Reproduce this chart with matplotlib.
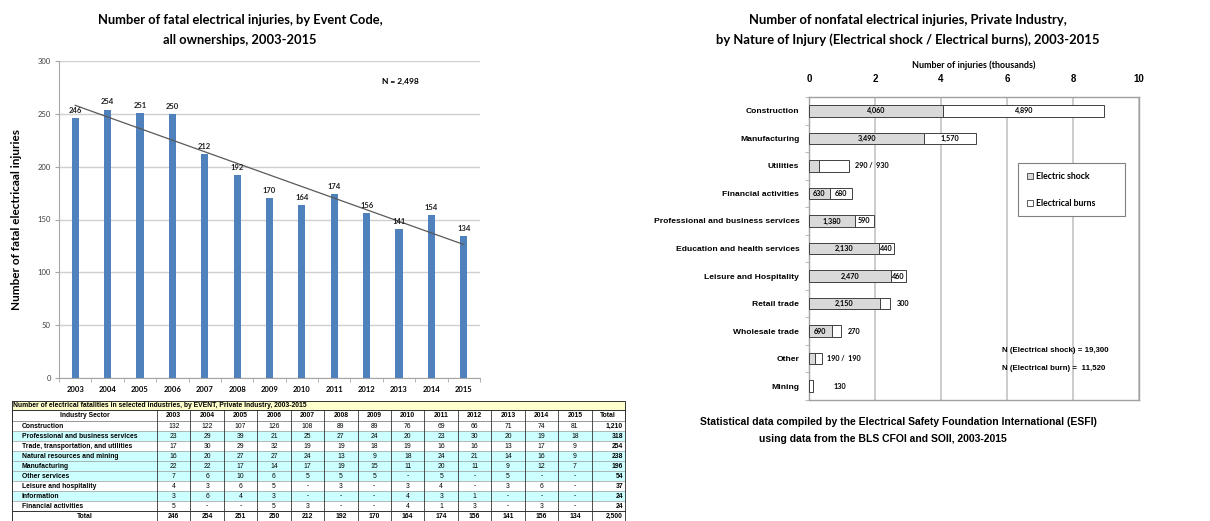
import matplotlib.pyplot as plt
import numpy as np
from matplotlib.patches import Rectangle, Patch

# ---- données : graphique de gauche (décès) ----
years = [2003, 2004, 2005, 2006, 2007, 2008, 2009, 2010, 2011, 2012, 2013, 2014, 2015]
fatal = [246, 254, 251, 250, 212, 192, 170, 164, 174, 156, 141, 154, 134]

# ---- données : tableau ----
table_title = "Number of electrical fatalities in selected industries, by EVENT, Private Industry, 2003-2015"
table_cols = ["2003", "2004", "2005", "2006", "2007", "2008", "2009", "2010", "2011",
              "2012", "2013", "2014", "2015", "Total"]
sectors = ["Construction", "Professional and business services",
           "Trade, transportation, and utilities", "Natural resources and mining",
           "Manufacturing", "Other services", "Leisure and hospitality",
           "Information", "Financial activities", "Total"]
table_vals = [
    ["132", "122", "107", "126", "108", "89", "89", "76", "69", "66", "71", "74", "81", "1,210"],
    ["23", "29", "39", "21", "25", "27", "24", "20", "23", "30", "20", "19", "18", "318"],
    ["17", "30", "29", "32", "19", "19", "18", "19", "16", "16", "13", "17", "9", "254"],
    ["16", "20", "27", "27", "24", "13", "9", "18", "24", "21", "14", "16", "9", "238"],
    ["22", "22", "17", "14", "17", "19", "15", "11", "20", "11", "9", "12", "7", "196"],
    ["7", "6", "10", "6", "5", "5", "5", "-", "5", "-", "5", "-", "-", "54"],
    ["4", "3", "6", "5", "-", "3", "-", "3", "4", "-", "3", "6", "-", "37"],
    ["3", "6", "4", "3", "-", "-", "-", "4", "3", "1", "-", "-", "-", "24"],
    ["5", "-", "-", "5", "3", "-", "-", "4", "1", "3", "-", "3", "-", "24"],
    ["246", "254", "251", "250", "212", "192", "170", "164", "174", "156", "141", "156", "134", "2,500"],
]
row_cyan = [False, True, False, True, True, True, False, True, False, False]

# ---- données : graphique de droite (non mortels, milliers) ----
industries = ["Construction", "Manufacturing", "Utilities", "Financial activities",
              "Professional and business services", "Education and health services",
              "Leisure and Hospitality", "Retail trade", "Wholesale trade", "Other", "Mining"]
shock = [4.06, 3.49, 0.29, 0.63, 1.38, 2.13, 2.47, 2.15, 0.69, 0.19, 0.0]
burns = [4.89, 1.57, 0.93, 0.68, 0.59, 0.44, 0.46, 0.30, 0.27, 0.19, 0.13]

W, H = 1210, 521
fig = plt.figure(figsize=(W / 100, H / 100), dpi=100)

def px(x0, y0, x1, y1):
    return [x0 / W, 1 - y1 / H, (x1 - x0) / W, (y1 - y0) / H]

TITLE_FONT = "Lato"
ARIAL = "Liberation Sans"

# ================= gauche =================
ax = fig.add_axes(px(59, 61, 480, 378))
x = np.arange(len(years))
ax.bar(x, fatal, width=0.22, color="#4f81bd", zorder=3)
for xi, v in zip(x, fatal):
    ax.annotate(str(v), (xi, v), xytext=(0, 3), textcoords="offset points",
                ha="center", va="bottom", fontsize=5.5, fontweight="bold",
                family=TITLE_FONT, color="#222222", zorder=5)
a, b = np.polyfit(x, fatal, 1)
ax.plot([x[0], x[-1]], [a * x[0] + b, a * x[-1] + b], color="#595959", lw=0.9, zorder=4)

ax.set_xlim(-0.5, len(years) - 0.5)
ax.set_ylim(0, 300)
ax.set_yticks(range(0, 301, 50))
ax.set_xticks(x)
ax.set_xticklabels([str(y) for y in years], fontsize=5.5, fontweight="bold", family=TITLE_FONT)
ax.set_xticks(np.arange(-0.5, len(years)), minor=True)
ax.tick_params(axis="x", which="major", length=0, pad=6)
ax.tick_params(axis="x", which="minor", length=3, color="#a6a6a6")
ax.tick_params(axis="y", length=3, color="#a6a6a6", labelsize=5.5, labelcolor="#404040", pad=3)
for t in ax.get_yticklabels():
    t.set_family(TITLE_FONT)
ax.grid(axis="y", color="#d0d0d0", lw=1, zorder=0)
for s in ["top", "right"]:
    ax.spines[s].set_visible(False)
ax.spines["left"].set_color("#a6a6a6")
ax.spines["bottom"].set_color("#a6a6a6")
ax.set_ylabel("Number of fatal electricaal injuries", fontsize=8.5, fontweight="bold",
              family=TITLE_FONT, labelpad=11)
ax.text(0.812, 0.937, "N = 2,498", transform=ax.transAxes, ha="center", va="center",
        fontsize=6, fontweight="bold", family=TITLE_FONT)
fig.text(240 / W, 1 - 30 / H, "Number of fatal electrical injuries, by Event Code,\nall ownerships, 2003-2015",
         ha="center", va="center", fontsize=9.3, fontweight="bold", family=TITLE_FONT,
         linespacing=1.75)

# ================= tableau =================
tax = fig.add_axes([0, 0, 1, 1])
tax.set_xlim(0, W)
tax.set_ylim(H, 0)
tax.axis("off")
tx0, tx1 = 12, 625
c0 = 157
cw = (tx1 - c0) / len(table_cols)
ty_title, ty_head, ty_rows, rh = 401, 410, 421, 10.0
fs = 4.9
tax.add_patch(Rectangle((tx0, ty_title), tx1 - tx0, ty_head - ty_title, facecolor="#ffffcc",
                        edgecolor="#333333", lw=0.7))
tax.text(tx0 + 1, (ty_title + ty_head) / 2, table_title, fontsize=fs, fontweight="bold",
         family=ARIAL, va="center", ha="left")
tax.add_patch(Rectangle((tx0, ty_head), tx1 - tx0, ty_rows - ty_head, facecolor="white",
                        edgecolor="#333333", lw=0.7))
tax.text((tx0 + c0) / 2, (ty_head + ty_rows) / 2, "Industry Sector", fontsize=fs,
         fontweight="bold", family=ARIAL, ha="center", va="center")
for j, c in enumerate(table_cols):
    tax.text(c0 + cw * (j + 0.5), (ty_head + ty_rows) / 2, c, fontsize=fs, fontweight="bold",
             family=ARIAL, ha="center", va="center")
for i, (name, vals) in enumerate(zip(sectors, table_vals)):
    y0 = ty_rows + i * rh
    fc = "#ccffff" if row_cyan[i] else "white"
    tax.add_patch(Rectangle((tx0, y0), tx1 - tx0, rh, facecolor=fc, edgecolor="#9a9a9a", lw=0.4))
    last = name == "Total"
    if last:
        tax.text((tx0 + c0) / 2, y0 + rh / 2, name, fontsize=fs, fontweight="bold",
                 family=ARIAL, ha="center", va="center")
    else:
        tax.text(tx0 + 10, y0 + rh / 2, name, fontsize=fs, fontweight="bold",
                 family=ARIAL, ha="left", va="center")
    for j, v in enumerate(vals):
        if j == len(vals) - 1:
            tax.text(c0 + cw * (j + 1) - 2, y0 + rh / 2, v, fontsize=fs, fontweight="bold",
                     family=ARIAL, ha="right", va="center")
        else:
            tax.text(c0 + cw * (j + 0.5), y0 + rh / 2, v, fontsize=fs,
                     fontweight="bold" if last else "normal",
                     family=ARIAL, ha="center", va="center")
ybot = ty_rows + len(sectors) * rh
for j in range(len(table_cols) + 1):
    xx = c0 + cw * j
    tax.plot([xx, xx], [ty_head, ybot], color="#333333", lw=0.6)
tax.plot([tx0, tx0], [ty_title, ybot], color="#333333", lw=0.7)
tax.plot([tx0, tx1], [ty_rows + (len(sectors) - 1) * rh] * 2, color="#333333", lw=0.7)

# ================= droite =================
bx = fig.add_axes(px(809, 97, 1139, 400))
y = np.arange(len(industries))
bx.barh(y, shock, height=0.42, color="#d9d9d9", edgecolor="#404040", lw=0.7, zorder=3,
        label="Electric shock")
bx.barh(y, burns, left=shock, height=0.42, color="white", edgecolor="#404040", lw=0.7,
        zorder=3, label="Electrical burns")

lab = dict(fontsize=5.2, fontweight="bold", family=TITLE_FONT, va="center", zorder=5)
for yi, s, bu in zip(y, shock, burns):
    end = s + bu
    if s < 0.5:
        txt = f"{int(round(s * 1000))} /  {int(round(bu * 1000))}" if s > 0 else f"{int(round(bu * 1000))}"
        off = 0.18 if s > 0 else 0.6
        bx.text(end + off, yi, txt, ha="left", **lab)
        continue
    bx.text(s / 2, yi, f"{s * 1000:,.0f}", ha="center", **lab)
    if bu >= 0.4:
        bx.text(s + bu / 2, yi, f"{bu * 1000:,.0f}", ha="center", **lab)
    else:
        bx.text(end + 0.2, yi, f"{bu * 1000:,.0f}", ha="left", **lab)

bx.set_xlim(0, 10)
bx.set_ylim(len(industries) - 0.5, -0.5)
bx.set_xticks(range(0, 11, 2))
bx.xaxis.tick_top()
bx.xaxis.set_label_position("top")
bx.set_xlabel("Number of injuries (thousands)", fontsize=6.5, fontweight="bold",
              family=TITLE_FONT, labelpad=5)
bx.tick_params(axis="x", length=0, pad=9, labelsize=7)
for t in bx.get_xticklabels():
    t.set_fontweight("bold")
    t.set_family(ARIAL)
bx.set_yticks(y)
bx.set_yticklabels(industries, fontsize=6.1, fontweight="bold", family=ARIAL)
bx.set_yticks(np.arange(-0.5, len(industries)), minor=True)
bx.tick_params(axis="y", which="major", length=0, pad=7)
bx.tick_params(axis="y", which="minor", length=3, color="#b0b0b0")
bx.grid(axis="x", color="#c8c8c8", lw=1.3, zorder=0)
for s in bx.spines.values():
    s.set_color("#a0a0a0")
    s.set_linewidth(1.0)

leg = bx.legend(handles=[Patch(facecolor="#d9d9d9", edgecolor="#404040", lw=0.6),
                         Patch(facecolor="white", edgecolor="#404040", lw=0.6)],
                labels=["Electric shock", "Electrical burns"],
                loc="upper left", bbox_to_anchor=(0.62, 0.795, 0.35, 0.0), mode="expand",
                prop=dict(family=TITLE_FONT, weight="bold", size=6.3),
                handlelength=0.7, handleheight=0.7, handletextpad=0.4,
                labelspacing=2.0, borderpad=1.0, fancybox=False, framealpha=1,
                edgecolor="#808080")
leg.get_frame().set_linewidth(0.8)
leg.set_zorder(6)

bx.text(1002, 350, "N (Electrical shock) = 19,300", transform=tax.transData,
        fontsize=5.7, fontweight="bold", family=ARIAL, ha="left", va="center")
bx.text(1002, 369, "N (Electrical burn) =  11,520", transform=tax.transData,
        fontsize=5.7, fontweight="bold", family=ARIAL, ha="left", va="center")

fig.text(908 / W, 1 - 30 / H,
         "Number of nonfatal electrical injuries, Private Industry,\nby Nature of Injury (Electrical shock / Electrical burns), 2003-2015",
         ha="center", va="center", fontsize=9.4, fontweight="bold", family=TITLE_FONT,
         linespacing=1.75)
fig.text(898 / W, 1 - 422 / H,
         "Statistical data compiled by the Electrical Safety Foundation International (ESFI)",
         ha="center", va="center", fontsize=7.5, fontweight="bold", family=ARIAL)
fig.text(883 / W, 1 - 439 / H, "using data from the BLS CFOI and SOII, 2003-2015",
         ha="center", va="center", fontsize=7.5, fontweight="bold", family=ARIAL)

fig.savefig("out.png", dpi=100)
